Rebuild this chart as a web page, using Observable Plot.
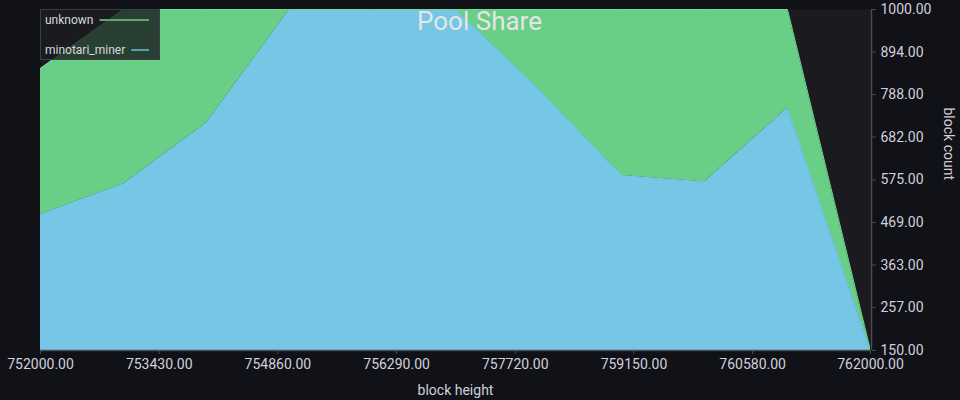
<!DOCTYPE html>
<html>
<head>
<meta charset="utf-8">
<script src="https://cdn.jsdelivr.net/npm/d3@7"></script>
<script src="https://cdn.jsdelivr.net/npm/@observablehq/plot@0.6"></script>
<style>
  html, body { margin: 0; padding: 0; background: #111217; }
  #chart svg { display: block; }
</style>
</head>
<body>
<div id="chart"></div>
<script>
// ---- data ----
const blockHeights = [752000, 753000, 754000, 755000, 756000, 757000, 758000, 759000, 760000, 761000, 762000];
const minotariMiner = [489, 565, 717, 1000, 1000, 1000, 802, 586, 570, 754, 150];
const unknown = [364, 435, 283, 0, 0, 0, 198, 414, 430, 246, 0];
const seriesNames = ["minotari_miner", "unknown"];
const seriesColors = ["#75c7e5", "#69ce86"];
const lineColors = ["#75c7e5", "#73d98e"];
const legendOrder = ["unknown", "minotari_miner"];
const legendSwatch = ["#5ea86c", "#5d9bb4"];
const xTicks = [752000, 753430, 754860, 756290, 757720, 759150, 760580, 762000];
const yTicks = [150, 257, 363, 469, 575, 682, 788, 894, 1000];
const title = "Pool Share";
const xLabel = "block height";
const yLabel = "block count";

const rows = [];
blockHeights.forEach((h, i) => {
  rows.push({height: h, series: "minotari_miner", count: minotariMiner[i]});
  rows.push({height: h, series: "unknown", count: unknown[i]});
});

const fmt = d => d.toFixed(2);
const font = "Roboto, 'Open Sans', sans-serif";

const chart = Plot.plot({
  width: 960,
  height: 400,
  marginLeft: 40,
  marginRight: 90,
  marginTop: 9,
  marginBottom: 50,
  style: {background: "#111217", color: "#ccccdc", fontFamily: font, fontSize: "14px"},
  x: {domain: [752000, 762000], label: null},
  y: {domain: [150, 1000], label: null},
  color: {domain: seriesNames, range: seriesColors},
  marks: [
    Plot.frame({fill: "#1a1a1f", stroke: null}),
    Plot.areaY(rows, Plot.stackY({x: "height", y: "count", fill: "series", order: seriesNames, clip: true})),
    Plot.lineY(rows, Plot.stackY2({x: "height", y: "count", z: "series", order: seriesNames,
      stroke: d => lineColors[seriesNames.indexOf(d.series)], strokeWidth: 1, clip: true})),
    Plot.ruleY([150], {stroke: "#4a4b50", strokeWidth: 1.5}),
    Plot.ruleX([762000], {stroke: "#4a4b50", strokeWidth: 1.5, dx: 1}),
    Plot.axisX({ticks: xTicks, tickFormat: fmt, tickSize: 4, tickPadding: 5, label: null, stroke: "#4a4b50", fill: "#d0d0dc", fontSize: 14}),
    Plot.axisY({anchor: "right", ticks: yTicks, tickFormat: fmt, tickSize: 4, tickPadding: 5, label: null, stroke: "#4a4b50", fill: "#d0d0dc", fontSize: 14, dx: 1}),
    Plot.text([title], {frameAnchor: "top", lineAnchor: "middle", dx: 24, dy: 12, fontSize: 26, fill: "#e4e5e6", fontFamily: font}),
    Plot.text([xLabel], {frameAnchor: "bottom", lineAnchor: "middle", dy: 40, fontSize: 14, fill: "#d0d0dc"}),
    Plot.text([yLabel], {frameAnchor: "right", dx: 78, rotate: 90, fontSize: 14, fill: "#d0d0dc"})
  ]
});

document.getElementById("chart").appendChild(chart);

// ---- legend overlay (top-left, inside plot) ----
const svg = d3.select(chart);
const lg = svg.append("g").attr("transform", "translate(40,9)")
  .style("font-family", font).style("font-size", "12px").attr("text-anchor", "start");
lg.append("rect").attr("x", 0.5).attr("y", 0.5).attr("width", 119).attr("height", 50)
  .attr("fill", "rgba(26,27,31,0.8)").attr("stroke", "#3d3e44");
const texts = [];
legendOrder.forEach((name, i) => {
  const cy = 11 + i * 30;
  texts.push(lg.append("text").attr("x", 5).attr("y", cy).attr("dy", "0.35em")
    .attr("text-anchor", "start").attr("fill", "#d8d9da").text(name).node());
});
legendOrder.forEach((name, i) => {
  const cy = 11 + i * 30;
  const w = texts[i].getComputedTextLength();
  lg.append("line").attr("x1", 5 + w + 6).attr("x2", 109).attr("y1", cy).attr("y2", cy)
    .attr("stroke", legendSwatch[i]).attr("stroke-width", 2);
});
</script>
</body>
</html>
